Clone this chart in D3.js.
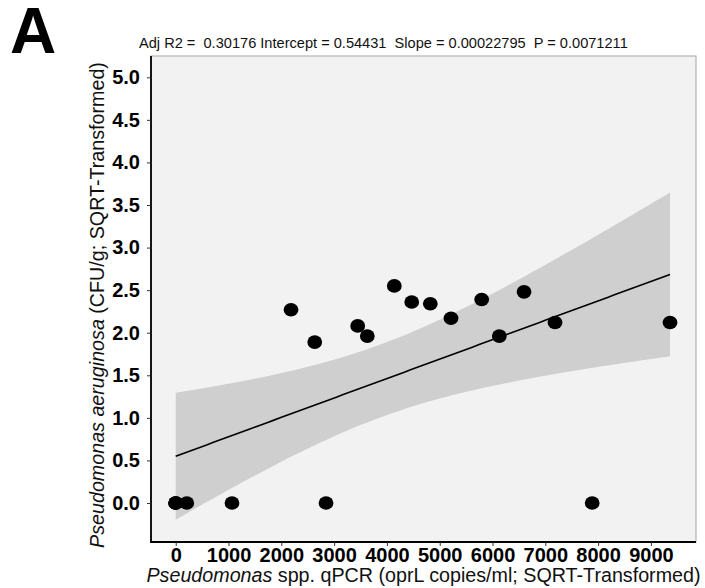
<!DOCTYPE html>
<html>
<head>
<meta charset="utf-8">
<script src="https://cdn.jsdelivr.net/npm/d3@7.9.0/dist/d3.min.js"></script>
<style>
  html, body { margin: 0; padding: 0; background: #fff; }
  svg { display: block; font-family: "Liberation Sans", Arial, sans-serif; }
</style>
</head>
<body>
<svg id="chart" width="705" height="588"></svg>
<script>
// Pseudomonas spp. qPCR (sqrt) vs P. aeruginosa CFU/g (sqrt)
const qpcr  = [0, 0, 0, 210, 1066, 2847, 7888, 2184, 2633, 3447, 3629, 4140, 4470, 4822, 5214, 5795, 6129, 6597, 7184, 9362];
const paCfu = [0, 0, 0, 0, 0, 0, 0, 2.27, 1.89, 2.08, 1.96, 2.55, 2.36, 2.34, 2.17, 2.39, 1.96, 2.48, 2.12, 2.12];

const xTicks = [0, 1000, 2000, 3000, 4000, 5000, 6000, 7000, 8000, 9000];
const yTicks = [0, 0.5, 1, 1.5, 2, 2.5, 3, 3.5, 4, 4.5, 5];

const statsText = "Adj R2 =  0.30176 Intercept = 0.54431  Slope = 0.00022795  P = 0.0071211";
const tCrit = 2.100922; // t(0.975, df = 18)

const panel = { left: 151, right: 696, top: 56, bottom: 542 };

const svg = d3.select("#chart");

const x = d3.scaleLinear().domain([-468, 9854]).range([panel.left, panel.right]);
const y = d3.scaleLinear().domain([-0.458, 5.25]).range([panel.bottom, panel.top]);

// panel background
svg.append("rect")
  .attr("x", panel.left).attr("y", panel.top)
  .attr("width", panel.right - panel.left).attr("height", panel.bottom - panel.top)
  .attr("fill", "#f2f2f2")
  .attr("stroke", "#a6a6a6")
  .attr("stroke-width", 1);

// linear fit + 95% confidence band
const n = qpcr.length;
const xbar = d3.mean(qpcr), ybar = d3.mean(paCfu);
const sxx = d3.sum(qpcr, v => (v - xbar) ** 2);
const sxy = d3.sum(qpcr, (v, i) => (v - xbar) * (paCfu[i] - ybar));
const slope = sxy / sxx;
const intercept = ybar - slope * xbar;
const sse = d3.sum(qpcr, (v, i) => (paCfu[i] - (intercept + slope * v)) ** 2);
const s = Math.sqrt(sse / (n - 2));

const [xmin, xmax] = d3.extent(qpcr);
const fitX = d3.range(0, 81).map(i => xmin + (xmax - xmin) * i / 80);
const fit = fitX.map(v => {
  const yhat = intercept + slope * v;
  const se = s * Math.sqrt(1 / n + (v - xbar) ** 2 / sxx);
  return { x: v, y: yhat, lo: yhat - tCrit * se, hi: yhat + tCrit * se };
});

svg.append("path")
  .datum(fit)
  .attr("fill", "#cfcfcf")
  .attr("d", d3.area().x(d => x(d.x)).y0(d => y(d.lo)).y1(d => y(d.hi)));

svg.append("path")
  .datum(fit)
  .attr("fill", "none")
  .attr("stroke", "#000")
  .attr("stroke-width", 1.6)
  .attr("d", d3.line().x(d => x(d.x)).y(d => y(d.y)));

// points
svg.append("g")
  .selectAll("ellipse")
  .data(qpcr.map((v, i) => [v, paCfu[i]]))
  .join("ellipse")
  .attr("cx", d => x(d[0]))
  .attr("cy", d => y(d[1]))
  .attr("rx", 7.4)
  .attr("ry", 6.8)
  .attr("fill", "#000");

// axis lines
svg.append("line")
  .attr("x1", panel.left).attr("x2", panel.left)
  .attr("y1", panel.top).attr("y2", panel.bottom + 0.8)
  .attr("stroke", "#000").attr("stroke-width", 1.8);
svg.append("line")
  .attr("x1", panel.left - 0.8).attr("x2", panel.right)
  .attr("y1", panel.bottom).attr("y2", panel.bottom)
  .attr("stroke", "#000").attr("stroke-width", 1.8);

// axes
const xAxis = svg.append("g")
  .attr("transform", `translate(0,${panel.bottom})`)
  .call(d3.axisBottom(x).tickValues(xTicks).tickFormat(d3.format("d")).tickSize(4).tickPadding(2));
const yAxis = svg.append("g")
  .attr("transform", `translate(${panel.left},0)`)
  .call(d3.axisLeft(y).tickValues(yTicks).tickFormat(d3.format(".1f")).tickSize(4).tickPadding(7));

[xAxis, yAxis].forEach(g => {
  g.select(".domain").remove();
  g.selectAll(".tick line").attr("stroke", "#333").attr("stroke-width", 1);
  g.selectAll(".tick text")
    .attr("fill", "#000")
    .style("font-size", "20px")
    .style("font-weight", "bold")
    .style("font-family", "'Liberation Sans', Arial, sans-serif");
});

// axis titles
const xTitle = svg.append("text")
  .attr("x", (panel.left + panel.right) / 2)
  .attr("y", 582)
  .attr("text-anchor", "middle")
  .style("font-size", "19.7px")
  .attr("fill", "#111");
xTitle.append("tspan").style("font-style", "italic").text("Pseudomonas");
xTitle.append("tspan").text(" spp. qPCR (oprL copies/ml; SQRT-Transformed)");

const yTitle = svg.append("text")
  .attr("transform", "translate(104,305) rotate(-90)")
  .attr("text-anchor", "middle")
  .style("font-size", "19.7px")
  .attr("fill", "#111");
yTitle.append("tspan").style("font-style", "italic").text("Pseudomonas aeruginosa");
yTitle.append("tspan").text(" (CFU/g; SQRT-Transformed)");

// stats title
svg.append("text")
  .attr("x", 139)
  .attr("y", 48)
  .attr("xml:space", "preserve")
  .style("white-space", "pre")
  .style("font-size", "14.6px")
  .attr("fill", "#111")
  .text(statsText);

// panel letter
svg.append("text")
  .attr("x", 10)
  .attr("y", 53)
  .style("font-size", "64px")
  .style("font-weight", "bold")
  .attr("fill", "#000")
  .text("A");
</script>
</body>
</html>
